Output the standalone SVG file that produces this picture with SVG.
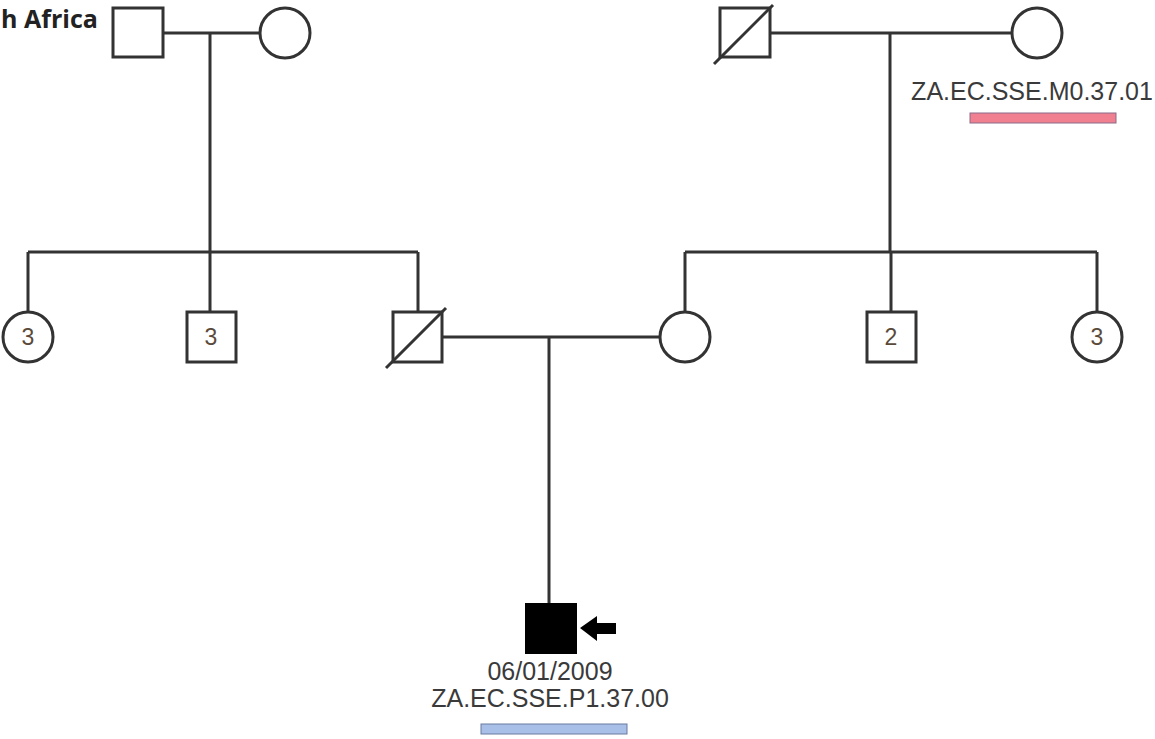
<svg xmlns="http://www.w3.org/2000/svg" width="1155" height="739" viewBox="0 0 1155 739">
<style>
.ln{stroke:#333;stroke-width:3;fill:none}
.sh{stroke:#333;stroke-width:3;fill:#fff}
.lbl{font-family:"Liberation Sans",Arial,sans-serif;font-size:25px;fill:#3a3a3a;text-anchor:middle}
.num{font-family:"Liberation Sans",Arial,sans-serif;font-size:23px;fill:#5a4a3a;text-anchor:middle}
</style>
<rect width="1155" height="739" fill="#fff"/>
<text x="1" y="28" font-family="'Open Sans','Liberation Sans',sans-serif" font-weight="bold" font-size="25" fill="#222" textLength="97" lengthAdjust="spacingAndGlyphs">h Africa</text>
<g id="connectors">
<path class="ln" d="M163 33H260M210 33V252M28 252H418M28 252V312M210 252V312M418 252V312"/>
<path class="ln" d="M770 33H1012M890 33V252M685 252H1097M685 252V312M891 252V312M1097 252V312"/>
<path class="ln" d="M442 337H660M549 337V604"/>
</g>
<g id="gf1"><rect class="sh" x="113" y="8" width="50" height="49"/></g>
<g id="gm1"><circle class="sh" cx="285" cy="33" r="25"/></g>
<g id="gf2"><rect class="sh" x="720" y="8" width="50" height="49"/><line class="ln" x1="714" y1="64" x2="773" y2="5" stroke-width="2"/></g>
<g id="gm2"><circle class="sh" cx="1037" cy="33" r="25"/>
<text class="lbl" x="1032" y="100">ZA.EC.SSE.M0.37.01</text>
<rect x="970" y="113" width="146" height="10" fill="#f08090" stroke="#8a6a8a" stroke-width="1"/></g>
<g id="s1"><circle class="sh" cx="28" cy="337" r="25"/><text class="num" x="28" y="345">3</text></g>
<g id="s2"><rect class="sh" x="187" y="312" width="49" height="50"/><text class="num" x="211" y="345">3</text></g>
<g id="father"><rect class="sh" x="393" y="312" width="49" height="50"/><line class="ln" x1="386" y1="368" x2="446" y2="308" stroke-width="2"/></g>
<g id="mother"><circle class="sh" cx="685" cy="337" r="25"/></g>
<g id="s3"><rect class="sh" x="867" y="312" width="49" height="50"/><text class="num" x="891" y="345">2</text></g>
<g id="s4"><circle class="sh" cx="1097" cy="337" r="25"/><text class="num" x="1097" y="345">3</text></g>
<g id="proband"><rect x="525" y="603" width="52" height="51" fill="#000"/>
<polygon points="580,628 597,616 597,623 616,623 616,634 597,634 597,641" fill="#000"/>
<text class="lbl" x="550" y="680">06/01/2009</text>
<text class="lbl" x="550" y="707">ZA.EC.SSE.P1.37.00</text>
<rect x="481" y="724" width="146" height="10" fill="#a8bfe8" stroke="#6a7aa0" stroke-width="1"/></g>
</svg>
